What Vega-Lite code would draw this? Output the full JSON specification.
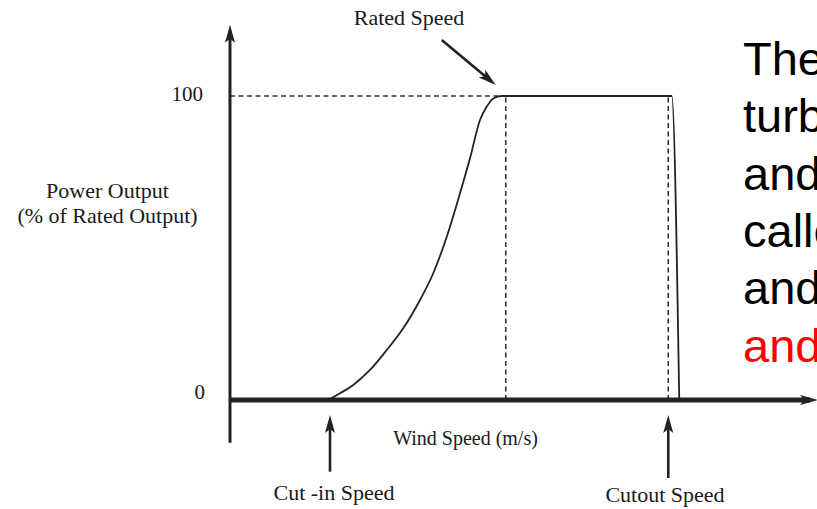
{
  "$schema": "https://vega.github.io/schema/vega-lite/v6.json",
  "width": 817,
  "height": 509,
  "autosize": {"type": "none"},
  "padding": 0,
  "background": "white",
  "config": {"view": {"stroke": null}},
  "encoding": {
    "x": {"field": "x", "type": "quantitative", "scale": {"domain": [-9.2, 23.48], "nice": false, "zero": false}, "axis": null},
    "y": {"field": "y", "type": "quantitative", "scale": {"domain": [-35.855, 131.579], "nice": false, "zero": false}, "axis": null}
  },
  "layer": [
    {
      "data": {"values": [
        {"x": 0, "y": 100, "x2": 11.03, "y2": 100},
        {"x": 11.03, "y": 0, "x2": 11.03, "y2": 100},
        {"x": 17.53, "y": 0, "x2": 17.53, "y2": 100}
      ]},
      "mark": {"type": "rule", "color": "#333333", "strokeWidth": 1.6, "strokeDash": [5, 3.5]},
      "encoding": {"x2": {"field": "x2"}, "y2": {"field": "y2"}}
    },
    {
      "data": {"values": [{"x": 0, "y": -14.1, "x2": 0, "y2": 120}]},
      "mark": {"type": "rule", "color": "#222222", "strokeWidth": 3},
      "encoding": {"x2": {"field": "x2"}, "y2": {"field": "y2"}}
    },
    {
      "data": {"values": [{"x": 0, "y": 0, "x2": 23.2, "y2": 0}]},
      "mark": {"type": "rule", "color": "#222222", "strokeWidth": 5},
      "encoding": {"x2": {"field": "x2"}, "y2": {"field": "y2"}}
    },
    {
      "data": {"values": [
        {"x": 3.95, "y": 0},
        {"x": 4.4, "y": 2.2},
        {"x": 4.93, "y": 4.93},
        {"x": 5.6, "y": 9.87},
        {"x": 6.27, "y": 16.45},
        {"x": 6.93, "y": 23.57},
        {"x": 7.6, "y": 32.9},
        {"x": 8.13, "y": 41.7},
        {"x": 8.67, "y": 53.7},
        {"x": 9.2, "y": 68.0},
        {"x": 9.6, "y": 79.5},
        {"x": 10.0, "y": 92.1},
        {"x": 10.27, "y": 96.5},
        {"x": 10.53, "y": 99.2},
        {"x": 10.87, "y": 100},
        {"x": 11.03, "y": 100},
        {"x": 17.67, "y": 100},
        {"x": 17.97, "y": 0}
      ]},
      "mark": {"type": "line", "color": "#222222", "strokeWidth": 1.8, "interpolate": "monotone"}
    },
    {
      "data": {"values": [
        {"x": 8.47, "y": 118.42, "x2": 10.4, "y2": 105.2},
        {"x": 4.0, "y": -23.59, "x2": 4.0, "y2": -7.5},
        {"x": 17.53, "y": -25.66, "x2": 17.53, "y2": -7.5}
      ]},
      "mark": {"type": "rule", "color": "#222222", "strokeWidth": 2.6},
      "encoding": {"x2": {"field": "x2"}, "y2": {"field": "y2"}}
    },
    {
      "data": {"values": [{"x": 0, "y": 123.4}, {"x": 4.0, "y": -4.93}, {"x": 17.53, "y": -4.93}]},
      "mark": {"type": "point", "shape": "M0,0 L0.45,1.6 L0,1.25 L-0.45,1.6 Z", "size": 500, "angle": 0, "filled": true, "color": "#222222", "opacity": 1, "strokeWidth": 0}
    },
    {
      "data": {"values": [{"x": 23.52, "y": 0}]},
      "mark": {"type": "point", "shape": "M0,0 L0.45,1.6 L0,1.25 L-0.45,1.6 Z", "size": 500, "angle": 90, "filled": true, "color": "#222222", "opacity": 1, "strokeWidth": 0}
    },
    {
      "data": {"values": [{"x": 10.63, "y": 103.6}]},
      "mark": {"type": "point", "shape": "M0,0 L0.45,1.6 L0,1.25 L-0.45,1.6 Z", "size": 500, "angle": 130, "filled": true, "color": "#222222", "opacity": 1, "strokeWidth": 0}
    },
    {
      "data": {"values": [
        {"x": 7.16, "y": 123.36, "label": "Rated Speed"},
        {"x": -4.9, "y": 66.45, "label": "Power Output"},
        {"x": -4.9, "y": 58.22, "label": "(% of Rated Output)"},
        {"x": 4.16, "y": -32.89, "label": "Cut -in Speed"},
        {"x": 17.4, "y": -33.45, "label": "Cutout Speed"}
      ]},
      "mark": {"type": "text", "font": "Liberation Serif", "fontSize": 22, "align": "center", "baseline": "alphabetic", "color": "#1a1a1a"},
      "encoding": {"text": {"field": "label"}}
    },
    {
      "data": {"values": [{"x": 9.42, "y": -14.8, "label": "Wind Speed (m/s)"}]},
      "mark": {"type": "text", "font": "Liberation Serif", "fontSize": 20, "align": "center", "baseline": "alphabetic", "color": "#1a1a1a"},
      "encoding": {"text": {"field": "label"}}
    },
    {
      "data": {"values": [
        {"x": -1.08, "y": 98.36, "label": "100"},
        {"x": -1.0, "y": 0.33, "label": "0"}
      ]},
      "mark": {"type": "text", "font": "Liberation Serif", "fontSize": 21, "align": "right", "baseline": "alphabetic", "color": "#1a1a1a"},
      "encoding": {"text": {"field": "label"}}
    },
    {
      "data": {"values": [
        {"x": 20.52, "y": 106.91, "label": "The"},
        {"x": 20.52, "y": 88.06, "label": "turbine"},
        {"x": 20.52, "y": 69.18, "label": "and"},
        {"x": 20.52, "y": 50.33, "label": "called"},
        {"x": 20.52, "y": 31.48, "label": "and"}
      ]},
      "mark": {"type": "text", "font": "Liberation Sans", "fontSize": 47, "align": "left", "baseline": "alphabetic", "color": "#000000"},
      "encoding": {"text": {"field": "label"}}
    },
    {
      "data": {"values": [{"x": 20.52, "y": 12.6, "label": "and"}]},
      "mark": {"type": "text", "font": "Liberation Sans", "fontSize": 47, "align": "left", "baseline": "alphabetic", "color": "#ff0000"},
      "encoding": {"text": {"field": "label"}}
    }
  ]
}
